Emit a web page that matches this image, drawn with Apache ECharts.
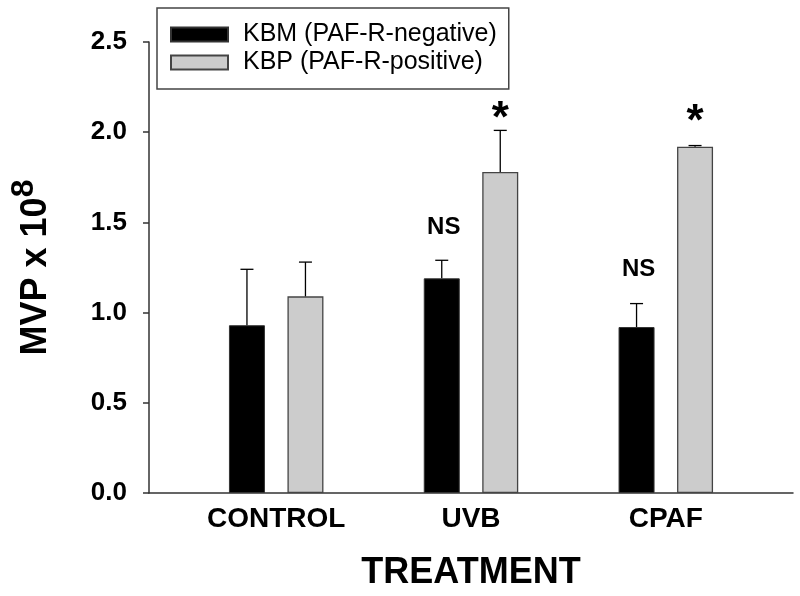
<!DOCTYPE html>
<html>
<head>
<meta charset="utf-8">
<script src="https://cdn.jsdelivr.net/npm/echarts@6/dist/echarts.min.js"></script>
<style>html,body{margin:0;padding:0;background:#fff}#c{width:800px;height:596px}</style>
</head>
<body>
<div id="c"></div>
<script>
const categories = ['CONTROL', 'UVB', 'CPAF'];
const seriesNames = ['KBM (PAF-R-negative)', 'KBP (PAF-R-positive)'];
const kbm = [0.93, 1.19, 0.92];
const kbmErr = [0.31, 0.10, 0.13];
const kbp = [1.09, 1.78, 1.92];
const kbpErr = [0.19, 0.23, 0.006];
const kbmMarks = ['', 'NS', 'NS'];
const kbmMarkY = [null, 1.47, 1.24];
const kbpMarks = ['', '*', '*'];
const kbpMarkY = [null, 2.12, 2.10];
const yTicks = [0, 0.5, 1.0, 1.5, 2.0, 2.5];

const FONT = '"Liberation Sans", Arial, sans-serif';
const BAR_W = 36;
const BAR_GAP_PX = 22.5;
const OFF = (BAR_W + BAR_GAP_PX) / 2;

function errSeries(vals, errs, offset) {
  return {
    type: 'custom',
    z: 5,
    silent: true,
    data: vals.map((v, i) => [i + 1, v, v + errs[i]]),
    renderItem: function (params, api) {
      const x = api.value(0);
      const top = api.coord([x, api.value(1)]);
      const cap = api.coord([x, api.value(2)]);
      const cx = top[0] + offset;
      const st = { stroke: '#000', lineWidth: 1.3 };
      return {
        type: 'group',
        children: [
          { type: 'line', shape: { x1: cx, y1: top[1], x2: cx, y2: cap[1] }, style: st },
          { type: 'line', shape: { x1: cx - 6.5, y1: cap[1], x2: cx + 6.5, y2: cap[1] }, style: st }
        ]
      };
    }
  };
}

function markSeries(marks, ys, offset) {
  const idx = [];
  marks.forEach((m, i) => { if (m) idx.push(i); });
  return {
    type: 'custom',
    z: 6,
    silent: true,
    data: idx.map(i => [i + 1, ys[i]]),
    renderItem: function (params, api) {
      const i = idx[params.dataIndex];
      const t = marks[i];
      const p = api.coord([api.value(0), api.value(1)]);
      const isStar = t === '*';
      return {
        type: 'text',
        x: p[0] + offset,
        y: p[1] + (isStar ? 9 : 0),
        style: {
          text: t,
          font: 'bold ' + (isStar ? 44 : 24) + 'px ' + FONT,
          fill: '#000',
          align: 'center',
          verticalAlign: 'middle',
          textAlign: 'center',
          textVerticalAlign: 'middle'
        }
      };
    }
  };
}

const chart = echarts.init(document.getElementById('c'), null, { renderer: 'canvas' });
chart.setOption({
  animation: false,
  backgroundColor: '#fff',
  grid: { left: 145, right: 7, top: 42, bottom: 101.5, containLabel: false },
  legend: {
    data: seriesNames,
    orient: 'vertical',
    left: 157,
    top: 8,
    padding: [14, 12, 14, 13],
    itemWidth: 57,
    itemHeight: 14,
    itemGap: 3,
    icon: 'rect',
    borderColor: '#444',
    borderWidth: 1.5,
    textStyle: { fontSize: 25, fontFamily: FONT, color: '#000', lineHeight: 25, padding: [0, 0, 0, 10] }
  },
  xAxis: {
    type: 'value',
    min: 0.347,
    max: 3.653,
    splitLine: { show: false },
    axisTick: { show: false },
    axisLine: { show: true, onZero: false, lineStyle: { color: '#333', width: 1.5 } },
    axisLabel: {
      customValues: [1, 2, 3],
      formatter: v => categories[Math.round(v) - 1] || '',
      fontSize: 28, fontWeight: 'bold', fontFamily: FONT, color: '#000', margin: 12
    },
    name: 'TREATMENT',
    nameLocation: 'middle',
    nameGap: 62,
    nameTextStyle: { fontSize: 36, fontWeight: 'bold', fontFamily: FONT, color: '#000' }
  },
  yAxis: {
    type: 'value',
    min: yTicks[0],
    max: yTicks[yTicks.length - 1],
    interval: 0.5,
    splitLine: { show: false },
    axisLine: { show: true, onZero: false, lineStyle: { color: '#333', width: 1.5 } },
    axisTick: { show: true, inside: false, length: 6, lineStyle: { color: '#333', width: 1.5 } },
    axisLabel: {
      formatter: v => v.toFixed(1),
      fontSize: 26, fontWeight: 'bold', fontFamily: FONT, color: '#000', margin: 22
    },
    name: '{a|MVP x 10}{b|8}',
    nameLocation: 'middle',
    nameRotate: 90,
    nameGap: 85,
    nameTextStyle: {
      rich: {
        a: { fontSize: 36, fontWeight: 'bold', fontFamily: FONT, color: '#000', lineHeight: 56 },
        b: { fontSize: 32, fontWeight: 'bold', fontFamily: FONT, color: '#000', lineHeight: 32, verticalAlign: 'top' }
      }
    }
  },
  series: [
    {
      name: seriesNames[0],
      type: 'bar',
      barWidth: BAR_W,
      barGap: (BAR_GAP_PX / BAR_W * 100) + '%',
      itemStyle: { color: '#000', borderColor: '#333', borderWidth: 1 },
      data: kbm.map((v, i) => [i + 1, v])
    },
    {
      name: seriesNames[1],
      type: 'bar',
      barWidth: BAR_W,
      barGap: (BAR_GAP_PX / BAR_W * 100) + '%',
      itemStyle: { color: '#cccccc', borderColor: '#444', borderWidth: 1.3 },
      data: kbp.map((v, i) => [i + 1, v])
    },
    errSeries(kbm, kbmErr, -OFF),
    errSeries(kbp, kbpErr, OFF),
    markSeries(kbmMarks, kbmMarkY, -OFF + 2),
    markSeries(kbpMarks, kbpMarkY, OFF)
  ]
});
</script>
</body>
</html>
